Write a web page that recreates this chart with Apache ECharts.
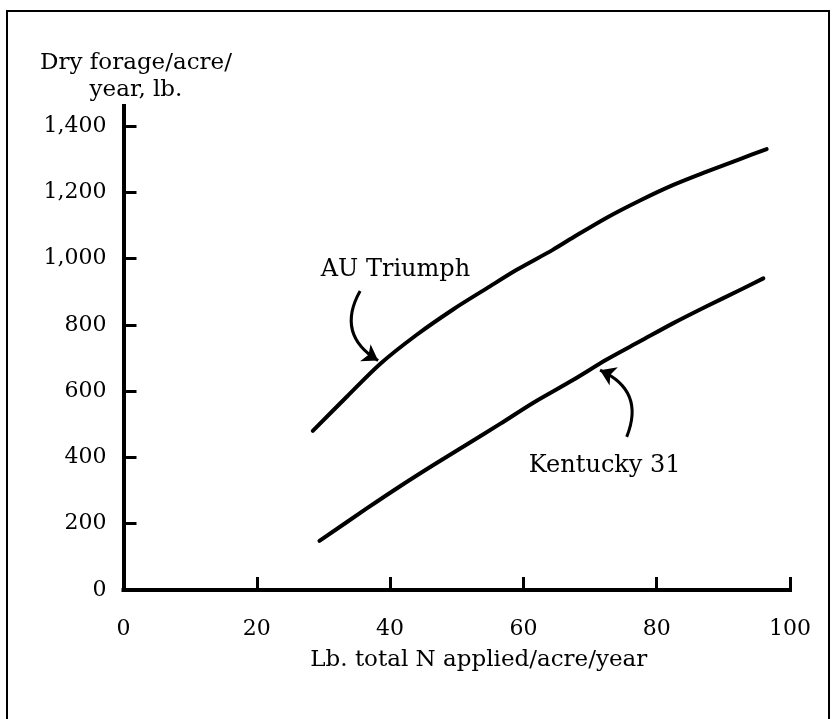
<!DOCTYPE html>
<html>
<head>
<meta charset="utf-8">
<script src="https://cdn.jsdelivr.net/npm/echarts@6/dist/echarts.min.js"></script>
<style>
html,body{margin:0;padding:0;background:#fff;}
#c{width:832px;height:719px;}
</style>
</head>
<body>
<div id="c"></div>
<script>
// Data
var auX = [28.4, 33.5, 38.5, 44.0, 49.5, 54.5, 59.0, 64.4, 67.5, 72.5, 77.5, 82.5, 87.5, 92.5, 96.5];
var auY = [480, 583, 682, 770, 847, 910, 966, 1026, 1064, 1123, 1175, 1222, 1262, 1300, 1330];
var kyX = [29.4, 36.5, 41.5, 46.5, 51.5, 56.5, 61.5, 67.5, 72.5, 77.5, 82.5, 87.5, 92.5, 96.0];
var kyY = [148, 246, 313, 377, 439, 501, 565, 634, 695, 750, 805, 856, 905, 940];
var xTicks = [0, 20, 40, 60, 80, 100];
var yTicks = [0, 200, 400, 600, 800, 1000, 1200, 1400];
var seriesNames = ['AU Triumph', 'Kentucky 31'];
// label anchors (data coords) and arrow paths (data coords)
var labelPos = [[40.8, 967], [72.2, 374]];
var arrowPaths = [
  [[35.5, 902], [38.2, 692]],
  [[75.5, 462], [71.5, 663]]
];

function pairs(xs, ys) { return xs.map(function (x, i) { return [x, ys[i]]; }); }

var FONT = 'DejaVu Serif';
var chart = echarts.init(document.getElementById('c'), null, {renderer: 'canvas'});
chart.setOption({
  backgroundColor: '#ffffff',
  animation: false,
  grid: {left: 123.5, right: 42, top: 106, bottom: 129, outerBoundsMode: 'none', containLabel: false},
  xAxis: {
    type: 'value', min: 0, max: 100, interval: 20,
    name: 'Lb. total N applied/acre/year',
    nameLocation: 'middle', nameGap: 59, nameMoveOverlap: false,
    nameTextStyle: {fontFamily: FONT, fontSize: 23, color: '#000', padding: [0, 0, 0, 44]},
    axisLine: {show: true, lineStyle: {color: '#000', width: 4, cap: 'square'}},
    axisTick: {show: true, inside: true, length: 13, lineStyle: {color: '#000', width: 3}},
    axisLabel: {show: true, margin: 28, fontFamily: FONT, fontSize: 22, color: '#000',
      customValues: xTicks, formatter: function (v) { return String(v); }},
    splitLine: {show: false}
  },
  yAxis: {
    type: 'value', min: 0, max: 1460,
    name: 'Dry forage/acre/\nyear, lb.',
    nameLocation: 'end', nameGap: 2, nameMoveOverlap: false,
    nameTextStyle: {fontFamily: FONT, fontSize: 23, color: '#000', lineHeight: 27, align: 'center', padding: [0, 0, 0, 25]},
    axisLine: {show: true, lineStyle: {color: '#000', width: 4, cap: 'square'}},
    axisTick: {show: true, inside: true, length: 13, customValues: yTicks, lineStyle: {color: '#000', width: 3}},
    axisLabel: {show: true, margin: 17, fontFamily: FONT, fontSize: 22, color: '#000',
      customValues: yTicks,
      formatter: function (v) { return v.toLocaleString('en-US'); }},
    splitLine: {show: false}
  },
  graphic: [{
    type: 'rect', shape: {x: 7, y: 11, width: 822, height: 720},
    style: {fill: 'none', stroke: '#000', lineWidth: 2}, silent: true, z: -1
  }],
  series: [
    {
      name: seriesNames[0], type: 'line', smooth: 0.3, showSymbol: false,
      data: pairs(auX, auY),
      lineStyle: {color: '#000', width: 4, cap: 'round', join: 'round'}
    },
    {
      name: seriesNames[1], type: 'line', smooth: 0.3, showSymbol: false,
      data: pairs(kyX, kyY),
      lineStyle: {color: '#000', width: 4, cap: 'round', join: 'round'}
    },
    {
      type: 'scatter', symbolSize: 0, silent: true,
      data: labelPos.map(function (p, i) { return {value: p, name: seriesNames[i]}; }),
      label: {show: true, position: 'inside', formatter: '{b}', fontFamily: FONT, fontSize: 24,
        color: '#000', textBorderWidth: 0, opacity: 1}
    },
    {
      type: 'lines', coordinateSystem: 'cartesian2d', silent: true,
      symbol: ['none', 'arrow'], symbolSize: [0, 15],
      lineStyle: {color: '#000', width: 3, curveness: -0.48, opacity: 1},
      data: arrowPaths.map(function (c) { return {coords: c}; })
    }
  ]
});
</script>
</body>
</html>
